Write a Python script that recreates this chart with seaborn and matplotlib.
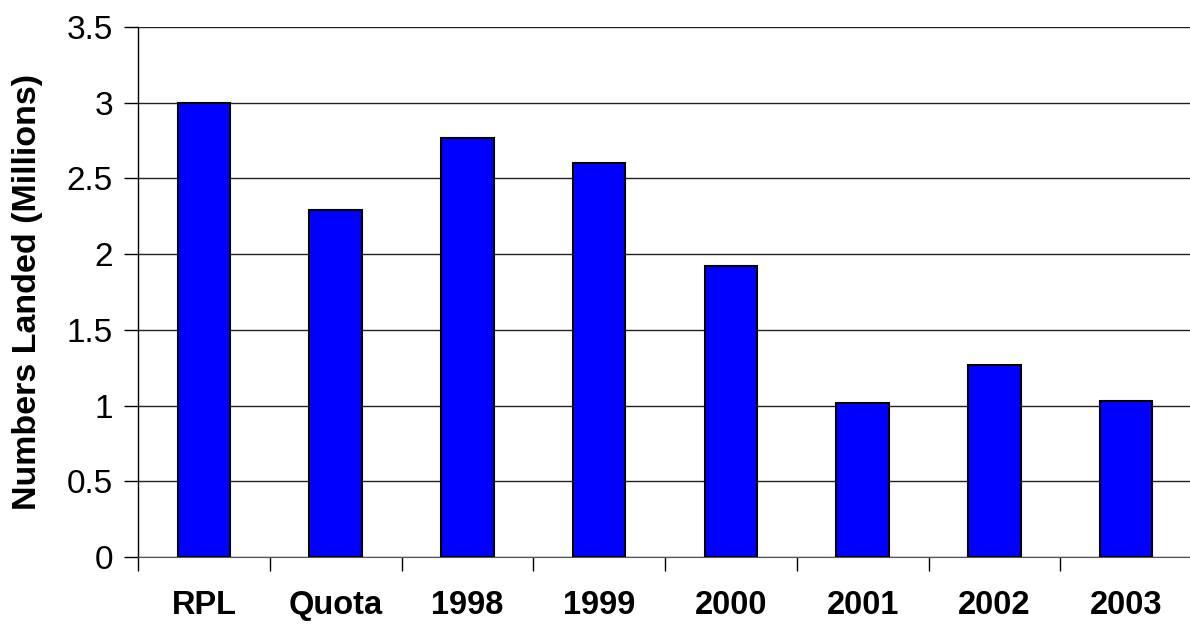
import pandas as pd
import seaborn as sns
import matplotlib.pyplot as plt

categories = ['RPL', 'Quota', '1998', '1999', '2000', '2001', '2002', '2003']
landed = [3.0, 2.29, 2.77, 2.60, 1.92, 1.02, 1.27, 1.03]

df = pd.DataFrame({'cat': categories, 'landed': landed})

sns.set_style('white')
plt.rcParams['font.family'] = ['Liberation Sans', 'DejaVu Sans']
plt.rcParams['text.color'] = 'black'
plt.rcParams['axes.labelcolor'] = 'black'
plt.rcParams['xtick.color'] = 'black'
plt.rcParams['ytick.color'] = 'black'

fig = plt.figure(figsize=(11.9, 6.24), dpi=100)
ax = fig.add_axes([138/1190, 1 - 557/624, 1054/1190, 530/624])

sns.barplot(data=df, x='cat', y='landed', color='#0000FF', width=0.4,
            edgecolor='black', linewidth=1.5, saturation=1, ax=ax)

ax.set_ylim(0, 3.5)
ax.set_xlim(-0.5, 7.5)
ax.set_yticks([0, 0.5, 1, 1.5, 2, 2.5, 3, 3.5])
ax.set_yticklabels(['0', '0.5', '1', '1.5', '2', '2.5', '3', '3.5'], fontsize=24)
ax.yaxis.grid(True, color='#222222', linewidth=1)
ax.set_axisbelow(True)

# category boundary ticks on the x axis
ax.set_xticks([i + 0.5 for i in range(-1, 8)], minor=True)
ax.tick_params(axis='x', which='minor', direction='out', length=10, width=1, color='black', bottom=True)
ax.tick_params(axis='x', which='major', length=0, pad=24, labelcolor='black')
ax.tick_params(axis='y', direction='out', length=10, width=1, color='black', left=True, pad=8, labelcolor='black')
for lab in ax.get_xticklabels():
    lab.set_fontsize(23.5)
    lab.set_fontweight('bold')

ax.set_xlabel('')
ax.set_ylabel('Numbers Landed (Millions)', fontsize=24.5, fontweight='bold', va='center', color='black')
ax.yaxis.set_label_coords(-110/1054, 0.5)

for s in ['top', 'right']:
    ax.spines[s].set_visible(False)
ax.spines['left'].set_color('black')
ax.spines['bottom'].set_color('#555555')
ax.spines['left'].set_linewidth(1)

fig.savefig('out.png', dpi=100)
